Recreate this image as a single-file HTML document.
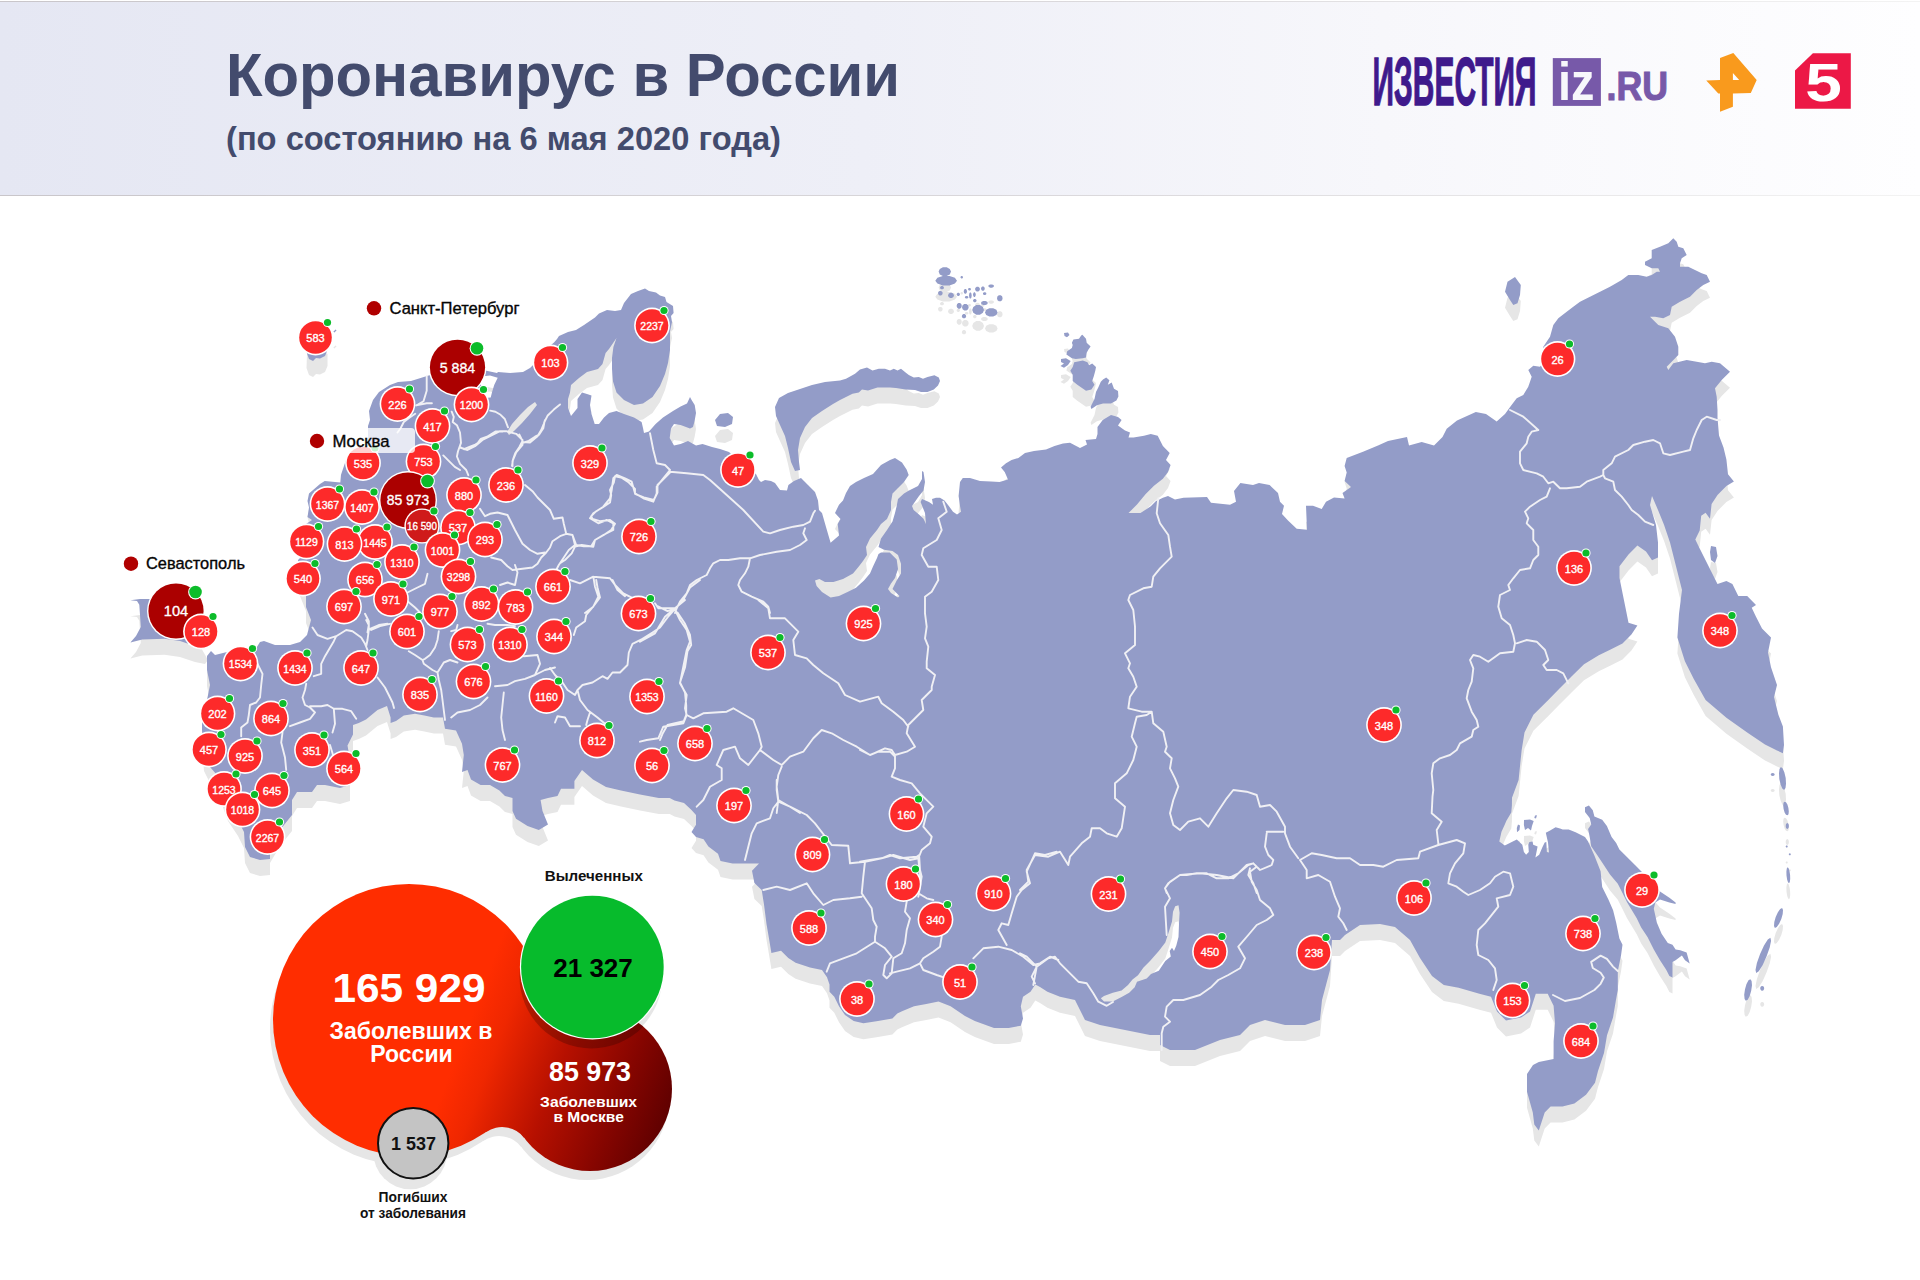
<!DOCTYPE html>
<html><head><meta charset="utf-8"><title>Коронавирус в России</title>
<style>
html,body{margin:0;padding:0;background:#fff;width:1920px;height:1280px;overflow:hidden}
svg{display:block}
text{font-family:'Liberation Sans', Arial, sans-serif}
.cn{fill:#fff;text-anchor:middle;font-weight:400;stroke:#fff;stroke-width:0.35px}
</style></head><body>
<svg width="1920" height="1280" viewBox="0 0 1920 1280">
<defs>
<linearGradient id="hdr" x1="0" y1="0" x2="1" y2="0">
<stop offset="0" stop-color="#e5e7f3"/><stop offset="0.45" stop-color="#eeeff7"/><stop offset="0.72" stop-color="#f7f7fb"/><stop offset="1" stop-color="#fefeff"/>
</linearGradient>
<linearGradient id="hline" x1="0" y1="0" x2="1" y2="0">
<stop offset="0" stop-color="#c9c6ca"/><stop offset="0.6" stop-color="#dcdadd"/><stop offset="1" stop-color="#f3f3f3"/>
</linearGradient>
<linearGradient id="blobg" gradientUnits="userSpaceOnUse" x1="470" y1="1020" x2="680" y2="1100">
<stop offset="0" stop-color="#ff2d00"/><stop offset="0.15" stop-color="#ef2700"/><stop offset="0.45" stop-color="#b61000"/><stop offset="0.75" stop-color="#850500"/><stop offset="1" stop-color="#5c0000"/>
</linearGradient>
<clipPath id="blobclip"><circle cx="409" cy="1020" r="136"/><circle cx="590" cy="1089" r="82"/><path d="M486.2 1132.0A28 28 0 0 1 524.4 1138.2L530 1040L470 1040Z"/></clipPath>
<filter id="gsh" x="-30%" y="-30%" width="160%" height="160%"><feGaussianBlur stdDeviation="4"/></filter>
<path id="land" d="M368.0 437.0L368.0 426.0L370.0 420.0L369.0 411.0L373.0 400.0L379.0 392.0L390.0 385.0L398.0 382.0L411.0 381.0L427.0 376.0L440.0 372.0L460.0 368.0L478.0 369.0L486.5 370.8L497.0 372.9L498.0 372.0L510.0 373.0L523.0 372.0L530.0 368.0L535.0 363.0L545.0 350.0L554.0 342.5L557.0 339.0L559.0 336.0L568.0 332.0L576.0 330.0L584.0 325.0L595.0 317.5L599.0 313.6L607.0 310.0L615.0 311.0L621.0 310.0L624.0 303.0L631.0 294.0L638.0 291.0L645.0 288.6L649.0 291.0L656.0 292.5L660.0 295.6L665.0 297.0L666.5 302.0L673.0 306.0L673.6 313.0L671.0 316.0L672.0 322.0L670.0 331.5L670.0 350.0L668.0 363.0L665.0 374.0L660.0 386.0L652.5 397.0L643.0 403.5L634.0 405.0L624.0 400.0L616.5 392.5L613.0 381.5L612.0 369.0L612.0 358.0L613.4 347.0L616.5 338.0L609.0 349.0L605.6 353.0L602.5 364.0L598.0 369.0L587.0 372.0L579.0 378.0L571.0 385.0L570.0 392.5L568.0 399.0L568.0 408.0L571.0 416.0L577.5 408.0L577.5 399.0L582.0 392.5L587.0 394.0L591.5 395.6L590.0 405.0L591.5 414.0L594.7 424.0L599.0 424.0L604.0 417.5L609.0 413.0L616.5 411.0L624.0 414.0L634.0 417.5L641.6 422.0L643.0 428.0L644.0 433.0L649.0 431.5L655.6 424.0L663.0 417.5L673.0 411.0L680.6 406.5L687.0 403.5L690.0 397.0L691.6 400.0L694.7 405.0L696.0 413.0L694.7 420.6L693.0 427.0L690.0 428.5L680.6 425.0L674.0 424.0L671.0 428.5L669.7 438.0L674.0 445.6L680.6 444.0L688.0 441.0L696.0 445.6L702.5 444.0L712.0 447.0L720.0 449.0L729.0 452.0L740.0 462.0L750.0 470.0L756.0 474.0L759.0 480.0L761.0 482.0L765.0 480.0L771.0 481.0L775.0 483.0L780.0 490.0L787.0 490.6L788.4 485.0L794.0 481.0L801.0 478.0L808.0 485.0L815.0 492.0L818.0 500.5L819.0 510.0L822.0 513.0L826.0 527.0L830.6 542.7L839.0 535.6L837.7 524.0L840.5 519.0L835.0 513.0L839.0 504.7L843.0 500.5L846.0 493.0L850.0 486.0L856.0 482.0L864.0 478.0L873.0 474.0L881.0 465.0L890.0 460.0L895.0 458.0L902.0 462.5L906.6 469.5L908.7 475.0L904.0 482.0L898.0 488.0L892.5 493.4L891.0 502.0L891.0 510.0L887.0 519.0L881.0 524.0L877.0 530.0L870.0 538.5L866.0 547.0L867.0 555.0L863.0 561.0L858.8 566.6L853.0 573.6L843.0 579.0L833.4 582.0L825.0 582.0L819.4 579.0L815.0 580.6L816.6 586.0L822.0 592.0L830.6 597.5L839.0 596.0L847.5 592.0L856.0 587.7L864.0 580.6L870.0 573.6L873.0 566.6L877.0 558.0L878.5 554.0L881.0 552.5L889.7 552.5L896.7 559.5L898.0 569.0L895.0 578.0L891.0 583.5L888.0 589.0L891.0 593.0L898.0 597.5L899.5 596.0L892.5 589.0L896.7 580.6L901.0 573.6L901.0 563.8L898.0 555.0L892.5 551.0L884.0 549.7L878.5 547.0L881.0 538.5L887.0 530.0L892.5 521.6L895.0 513.0L896.7 506.0L898.0 499.0L904.0 493.4L909.0 490.6L918.0 486.0L922.0 479.0L922.0 471.0L923.5 472.0L925.0 482.0L923.5 490.6L919.0 496.0L912.0 506.0L913.6 510.0L919.0 514.5L923.5 518.8L926.0 524.0L925.0 513.0L920.6 502.0L922.0 499.0L929.0 502.0L933.0 504.7L932.0 499.0L936.0 497.7L940.0 497.7L944.5 500.5L948.8 506.0L953.0 511.7L957.0 514.5L961.0 511.7L960.0 506.0L958.6 496.0L960.0 482.0L962.8 478.0L970.0 478.0L980.0 481.0L991.0 481.4L999.5 482.0L1008.0 479.6L1004.7 472.0L1001.0 467.6L1006.0 463.3L1011.6 460.0L1018.4 458.0L1025.0 453.0L1034.0 451.0L1046.0 449.6L1054.5 446.0L1063.0 443.5L1070.0 442.7L1080.0 448.0L1087.0 444.4L1085.5 440.0L1096.0 439.0L1097.5 434.0L1097.5 427.0L1102.7 420.0L1111.0 415.0L1118.0 417.0L1121.6 420.0L1118.0 425.5L1125.0 430.6L1130.0 432.4L1128.5 437.5L1133.6 437.5L1144.0 435.8L1150.8 434.0L1157.7 435.8L1162.9 446.0L1169.7 453.0L1166.0 460.0L1170.6 465.0L1168.0 472.0L1162.9 478.8L1154.0 485.7L1145.7 494.0L1137.0 504.6L1128.5 513.0L1140.5 513.0L1150.8 506.3L1156.0 501.0L1159.4 499.4L1162.9 497.7L1168.0 496.0L1175.0 499.4L1183.5 497.7L1207.0 497.0L1211.0 502.7L1230.0 504.8L1236.0 501.7L1234.0 491.0L1240.4 483.0L1253.0 485.0L1259.0 483.0L1269.6 485.0L1278.0 493.0L1280.0 501.7L1284.0 505.8L1282.0 514.0L1288.0 520.4L1296.7 528.8L1307.0 529.8L1306.0 505.8L1313.0 505.8L1321.7 509.0L1326.0 501.7L1334.0 497.5L1344.6 498.5L1342.5 493.0L1351.0 487.0L1344.6 481.0L1346.7 472.5L1344.6 466.0L1346.7 458.0L1363.0 451.7L1378.0 445.4L1388.0 441.0L1407.0 437.0L1409.0 445.4L1421.7 442.0L1434.0 445.4L1442.5 437.0L1446.7 428.8L1457.0 420.4L1475.8 412.0L1486.0 414.0L1496.7 421.5L1505.0 414.0L1511.0 405.8L1516.7 398.3L1523.3 395.0L1528.3 386.7L1531.7 376.7L1528.3 370.0L1533.3 365.8L1540.0 366.7L1545.0 360.0L1543.3 346.7L1550.0 336.7L1553.3 325.0L1558.3 318.3L1566.7 311.7L1573.3 306.7L1580.0 301.7L1590.0 296.7L1600.0 291.7L1610.0 286.7L1621.7 280.0L1628.3 275.0L1638.3 275.0L1646.7 276.7L1651.7 275.0L1656.7 271.7L1660.0 271.7L1658.3 268.3L1651.7 268.3L1645.0 265.0L1645.0 261.7L1651.7 258.3L1651.7 250.0L1660.0 246.7L1668.3 243.3L1673.3 238.3L1676.7 241.7L1678.3 246.7L1683.3 248.3L1686.7 255.0L1681.7 258.3L1680.0 263.3L1680.0 266.7L1688.3 266.7L1695.0 270.0L1701.7 273.3L1706.7 275.0L1710.0 281.7L1703.3 285.0L1696.7 290.0L1690.0 296.7L1680.0 301.7L1671.7 306.7L1670.0 315.0L1663.3 318.3L1655.0 316.7L1650.0 316.7L1658.3 325.0L1668.3 328.3L1675.0 336.7L1678.3 346.7L1678.3 355.0L1671.7 361.7L1666.7 366.7L1668.3 370.0L1673.3 363.3L1686.7 360.0L1696.7 361.7L1705.0 363.3L1711.7 361.7L1720.0 363.3L1730.0 371.7L1721.7 380.0L1715.0 388.3L1716.7 396.7L1717.5 410.0L1717.5 417.8L1719.0 435.6L1723.5 447.5L1726.4 459.4L1728.0 474.2L1733.9 481.6L1726.4 486.0L1717.5 495.0L1711.6 504.0L1710.0 518.8L1705.6 512.8L1701.2 515.8L1699.7 530.6L1695.3 539.5L1699.7 548.5L1705.6 560.3L1711.6 572.2L1717.5 584.0L1726.4 581.0L1732.4 584.0L1738.3 596.0L1747.2 596.0L1756.0 604.9L1751.7 607.8L1756.0 616.7L1762.0 628.6L1771.0 637.5L1768.0 652.4L1771.0 667.2L1777.0 685.0L1774.0 697.0L1778.4 714.7L1782.9 726.6L1784.0 745.0L1782.9 753.3L1777.0 750.4L1765.0 744.4L1747.2 732.5L1726.4 717.7L1705.6 699.9L1693.8 679.0L1684.9 661.3L1677.4 637.5L1679.0 613.8L1682.0 590.0L1676.0 566.3L1670.0 542.5L1664.0 524.7L1658.0 510.0L1652.0 496.0L1650.0 505.0L1656.0 525.0L1658.0 542.5L1658.0 557.4L1652.0 560.3L1646.0 551.4L1637.4 545.5L1628.5 554.4L1619.5 566.3L1619.5 578.0L1622.5 593.0L1625.5 607.8L1628.5 622.7L1637.4 625.6L1631.4 634.6L1622.5 643.5L1610.6 649.4L1598.8 655.3L1584.0 664.3L1572.0 676.0L1560.0 688.0L1548.3 700.0L1533.4 714.7L1524.5 732.5L1521.6 750.4L1518.6 780.0L1512.0 797.8L1511.9 805.5L1511.3 812.6L1506.4 820.8L1504.8 824.6L1501.5 831.7L1499.3 841.6L1504.8 845.4L1510.8 842.6L1516.8 839.4L1522.3 844.8L1523.9 851.9L1526.1 854.7L1528.8 851.9L1528.3 844.8L1529.4 842.1L1532.6 841.6L1533.2 844.8L1537.6 846.5L1535.4 857.4L1539.2 854.7L1542.5 847.0L1544.7 842.6L1546.3 842.1L1546.9 851.9L1549.0 852.5L1548.0 842.6L1545.8 832.8L1550.1 830.6L1555.6 827.3L1560.0 828.4L1562.7 829.5L1568.7 829.5L1575.6 832.2L1585.0 836.9L1588.1 841.6L1594.4 855.6L1600.6 871.2L1602.2 886.9L1608.4 899.4L1613.1 910.3L1616.2 922.8L1619.4 938.4L1622.5 944.7L1621.0 955.6L1617.8 971.2L1617.8 990.0L1616.0 999.7L1613.0 1017.5L1607.0 1035.3L1604.0 1053.0L1598.0 1071.0L1595.0 1082.8L1586.0 1094.7L1574.4 1103.6L1562.5 1106.6L1550.6 1106.6L1544.7 1112.5L1538.8 1130.4L1534.3 1124.4L1532.8 1112.5L1527.0 1091.8L1527.0 1074.0L1533.0 1065.0L1538.8 1062.0L1553.6 1059.0L1553.6 1041.3L1555.0 1023.5L1553.6 1005.7L1547.7 993.8L1535.8 993.8L1530.0 1011.6L1521.0 1017.5L1506.0 1020.5L1497.0 1011.6L1491.0 996.7L1479.4 993.8L1458.6 987.8L1443.8 984.9L1432.0 976.0L1420.0 958.0L1410.0 940.0L1395.0 927.0L1380.0 924.0L1360.0 925.0L1345.0 935.0L1340.0 940.0L1332.0 940.0L1330.0 970.0L1322.0 1000.0L1320.0 1020.0L1305.0 1025.0L1285.0 1025.0L1265.0 1020.0L1250.0 1025.0L1240.0 1035.0L1220.0 1040.0L1195.0 1050.0L1170.0 1050.0L1160.0 1045.0L1160.0 1035.0L1150.0 1035.0L1125.0 1030.0L1100.0 1025.0L1085.0 1020.0L1080.0 1010.0L1075.0 1000.0L1060.0 996.7L1047.4 991.8L1040.0 987.0L1035.3 984.6L1030.5 991.8L1023.0 996.7L1020.8 1006.3L1023.0 1018.5L1020.8 1025.7L1008.7 1028.0L994.0 1028.0L974.8 1020.9L965.0 1016.0L950.6 1006.3L938.5 1001.5L926.3 1004.0L914.0 1006.3L902.0 1011.2L897.3 1013.6L892.4 1018.5L878.0 1020.9L863.4 1023.3L853.7 1020.9L845.0 1015.0L839.0 1006.3L834.3 996.7L829.5 991.8L829.5 984.6L827.0 977.3L822.0 970.0L810.0 967.6L795.6 962.8L788.3 958.0L781.0 950.7L771.4 953.0L769.0 938.5L766.5 924.0L764.0 904.6L761.7 890.0L754.4 882.9L752.0 870.7L759.0 863.5L747.0 863.5L732.6 863.5L720.5 861.0L718.0 853.8L708.4 846.5L703.6 839.3L696.0 837.0L691.5 832.0L696.0 824.7L696.0 815.0L691.5 810.0L684.0 803.0L674.5 800.5L669.7 798.0L658.8 798.0L640.0 794.4L621.0 790.6L606.0 787.0L593.0 779.4L582.0 770.0L574.4 781.0L574.4 788.8L561.0 788.8L557.5 796.0L548.0 798.0L540.6 800.0L542.5 811.0L548.0 824.4L538.8 830.0L527.5 826.0L516.0 818.8L512.5 811.0L512.5 798.0L505.0 796.0L499.4 790.6L490.0 785.0L480.6 785.0L471.0 779.4L467.5 770.0L462.0 772.0L463.8 755.0L462.0 743.8L456.0 730.6L445.0 728.8L443.0 717.5L433.8 717.5L424.4 715.6L415.0 713.8L403.8 715.6L396.0 721.0L390.6 723.0L390.6 717.5L387.0 706.0L377.5 710.0L366.0 719.4L358.8 723.0L353.0 725.0L353.0 734.4L347.5 745.6L350.0 760.0L350.0 772.0L350.0 785.0L340.0 788.0L325.0 785.0L317.0 785.0L312.0 792.0L297.0 792.0L292.0 800.0L292.0 815.0L280.0 830.0L270.0 847.0L270.0 859.0L260.0 860.0L250.0 857.0L245.0 847.0L244.0 832.0L238.0 820.0L228.0 805.0L217.0 775.0L210.0 767.0L204.0 755.0L202.0 730.0L202.0 715.0L207.0 700.0L210.0 685.0L207.0 670.0L207.0 656.0L211.0 651.0L215.0 655.0L235.0 650.0L255.0 650.0L260.0 642.0L264.0 641.0L275.0 645.0L290.0 645.0L300.0 642.0L307.0 635.0L311.0 620.0L306.0 607.0L306.0 595.0L300.0 580.0L298.0 560.0L301.0 557.0L300.0 540.0L306.0 524.0L312.0 520.0L307.5 517.0L309.0 507.5L307.5 501.0L309.0 493.4L320.0 484.0L324.7 481.0L340.3 482.5L341.0 474.7L346.0 460.0L355.0 450.0L368.0 445.0ZM775.0 407.0L779.0 398.0L788.0 393.0L800.0 389.0L812.0 385.0L825.0 382.0L835.0 381.0L840.0 380.6L846.0 378.8L851.0 376.0L855.0 373.8L860.0 369.4L867.0 367.5L872.5 370.6L878.8 368.8L885.0 368.8L890.0 370.6L893.8 368.8L897.5 370.6L901.0 368.8L905.6 372.5L908.8 375.0L913.8 377.5L918.8 377.0L923.0 378.8L927.5 377.0L934.4 375.3L938.8 377.5L940.0 381.0L938.0 385.6L933.8 389.4L927.5 391.9L921.0 391.9L915.0 390.0L905.6 389.4L896.0 388.0L890.0 387.5L883.8 387.5L877.5 387.5L868.0 390.6L862.0 389.4L858.8 392.5L852.5 393.8L846.0 397.0L840.0 400.0L833.0 404.0L822.0 411.0L812.0 418.0L805.0 427.0L800.0 438.0L798.0 450.0L799.0 462.0L800.0 470.0L795.0 471.0L791.0 462.0L788.0 448.0L785.0 436.0L780.0 425.0L776.0 416.0ZM130.4 600.2L137.0 601.0L139.3 604.7L140.0 615.0L140.8 627.0L136.0 636.0L130.4 642.6L142.3 639.6L164.5 638.8L180.0 641.0L195.0 646.0L205.0 648.0L208.0 644.0L200.0 630.0L190.0 620.0L185.0 600.0L165.0 594.0L150.0 599.0L140.0 599.0ZM307.0 338.0L322.0 334.0L327.5 338.0L327.5 350.0L325.0 356.0L320.0 358.5L316.0 358.0L313.0 361.0L309.0 359.0L306.5 352.0ZM333.3 331.8L335.5 329.6L336.6 330.2L334.5 332.6ZM715.0 420.0L720.0 414.0L728.0 413.0L733.0 417.0L732.0 424.0L725.0 427.0L717.0 426.0ZM1082.4 334.8L1086.0 338.8L1086.7 342.7L1090.6 346.6L1088.3 349.7L1086.7 352.8L1086.0 357.5L1082.8 358.3L1075.8 359.0L1071.9 358.3L1066.4 354.4L1067.2 351.2L1071.9 348.0L1072.7 345.0L1071.9 342.7L1073.4 339.5L1079.0 338.8L1081.2 335.6ZM1064.0 333.0L1068.0 332.5L1069.5 335.0L1067.0 337.2L1064.5 336.0ZM1061.0 359.0L1066.0 358.3L1070.7 361.0L1068.0 365.0L1064.0 367.7L1060.5 366.0L1064.0 363.5L1061.0 362.0ZM1074.2 362.2L1082.8 360.6L1087.5 362.2L1089.0 365.3L1092.2 363.4L1096.0 366.9L1095.3 370.8L1093.8 376.2L1092.2 381.0L1094.5 384.8L1091.4 389.5L1086.0 390.7L1082.0 388.0L1077.3 384.8L1072.7 381.0L1072.7 374.7L1070.3 370.8L1072.7 366.9ZM1106.2 377.4L1109.4 380.2L1107.8 384.8L1111.7 382.5L1114.0 388.8L1118.0 391.0L1118.4 396.6L1116.4 400.5L1111.0 403.6L1103.0 403.6L1096.9 405.2L1091.4 409.0L1090.6 406.7L1094.5 398.9L1096.0 391.9L1098.4 387.2L1100.8 381.7L1103.0 379.4ZM1515.0 277.0L1520.8 285.0L1520.0 295.0L1517.5 303.3L1513.3 305.0L1510.0 300.0L1505.0 291.7L1507.5 281.7ZM1588.9 805.6L1592.8 810.3L1594.4 816.6L1602.2 819.7L1606.9 825.9L1611.6 836.9L1616.2 843.1L1619.4 849.4L1627.2 857.2L1635.0 865.0L1641.2 871.2L1650.0 880.0L1660.0 891.6L1669.4 897.8L1675.6 902.5L1675.6 904.0L1669.4 902.5L1660.0 899.4L1655.3 902.5L1653.8 908.8L1656.9 922.8L1661.6 933.8L1667.8 943.1L1672.5 944.7L1675.6 949.4L1680.3 950.2L1686.6 952.5L1689.7 963.4L1685.0 960.3L1681.9 955.6L1675.6 960.3L1672.5 961.9L1672.5 977.5L1669.4 975.9L1666.2 969.7L1660.0 960.3L1653.8 949.4L1647.5 936.9L1641.2 927.5L1636.6 918.1L1627.2 902.5L1622.5 893.1L1617.8 883.8L1610.0 874.4L1603.8 865.0L1597.5 855.6L1591.2 846.2L1589.7 836.9L1588.1 829.1L1591.2 824.4L1589.7 818.1L1585.0 811.9L1585.0 807.2ZM1711.0 546.0L1716.0 547.0L1717.5 556.0L1715.0 563.0L1711.0 560.0L1710.0 552.0ZM1785.7 778.1L1786.0 783.8L1785.5 788.1L1784.1 789.9L1782.3 788.6L1780.6 784.6L1779.3 778.9L1779.0 773.2L1779.5 768.9L1780.9 767.1L1782.7 768.4L1784.4 772.4ZM1774.7 774.5L1774.4 775.2L1773.7 775.8L1772.7 776.0L1771.7 775.8L1771.0 775.2L1770.7 774.5L1771.0 773.8L1771.7 773.2L1772.7 773.0L1773.7 773.2L1774.4 773.8ZM1788.4 808.0L1788.8 811.5L1788.5 814.2L1787.5 815.3L1786.0 814.7L1784.6 812.4L1783.6 809.0L1783.2 805.5L1783.5 802.8L1784.5 801.7L1786.0 802.3L1787.4 804.6ZM1788.9 826.0L1788.7 827.5L1788.1 828.6L1787.3 829.0L1786.5 828.6L1785.9 827.5L1785.7 826.0L1785.9 824.5L1786.5 823.4L1787.3 823.0L1788.1 823.4L1788.7 824.5ZM1787.7 846.5L1787.6 847.0L1787.2 847.4L1786.7 847.5L1786.2 847.4L1785.8 847.0L1785.7 846.5L1785.8 846.0L1786.2 845.6L1786.7 845.5L1787.2 845.6L1787.6 846.0ZM1790.8 854.3L1790.7 854.8L1790.3 855.2L1789.8 855.3L1789.3 855.2L1788.9 854.8L1788.8 854.3L1788.9 853.8L1789.3 853.4L1789.8 853.3L1790.3 853.4L1790.7 853.8ZM1790.1 875.1L1790.2 879.1L1789.8 882.1L1789.0 883.3L1788.0 882.3L1787.1 879.4L1786.5 875.5L1786.4 871.5L1786.8 868.5L1787.6 867.3L1788.6 868.3L1789.5 871.2ZM1781.3 919.0L1779.1 923.8L1776.8 927.1L1774.9 927.9L1774.0 926.0L1774.3 922.0L1775.7 917.0L1777.9 912.2L1780.2 908.9L1782.1 908.1L1783.0 910.0L1782.7 914.0ZM1766.5 956.6L1762.6 965.2L1758.8 971.2L1756.2 972.9L1755.5 969.9L1756.9 963.0L1760.1 954.0L1764.0 945.4L1767.8 939.4L1770.4 937.7L1771.1 940.7L1769.7 947.6ZM1751.2 990.7L1749.7 996.0L1747.7 999.7L1745.8 1000.8L1744.6 999.0L1744.2 994.8L1745.0 989.3L1746.5 984.0L1748.5 980.3L1750.4 979.2L1751.6 981.0L1752.0 985.2ZM1764.2 988.3L1763.9 989.5L1763.2 990.4L1762.2 990.7L1761.2 990.4L1760.5 989.5L1760.2 988.3L1760.5 987.1L1761.2 986.2L1762.2 985.9L1763.2 986.2L1763.9 987.1ZM1524.0 820.0L1530.0 819.5L1533.7 821.0L1532.0 826.0L1531.0 830.6L1528.0 828.0L1525.0 830.0L1523.9 825.0ZM1518.0 824.6L1520.0 825.5L1519.5 830.0L1517.0 832.3L1516.8 828.0ZM1535.0 815.5L1537.0 815.3L1536.0 818.6L1534.3 818.0ZM951.0 271.6L949.8 274.4L946.7 276.1L942.9 276.1L939.8 274.4L938.6 271.6L939.8 268.9L942.9 267.2L946.7 267.2L949.8 268.9ZM957.0 280.7L954.9 283.6L949.5 285.4L942.8 285.4L937.4 283.6L935.3 280.7L937.4 277.8L942.8 276.0L949.5 276.0L954.9 277.8ZM963.0 277.2L962.8 278.0L962.1 278.4L961.4 278.4L960.7 278.0L960.5 277.2L960.7 276.5L961.4 276.1L962.1 276.1L962.8 276.5ZM944.0 287.7L943.6 288.7L942.6 289.3L941.4 289.3L940.4 288.7L940.0 287.7L940.4 286.7L941.4 286.1L942.6 286.1L943.6 286.7ZM942.7 293.1L942.3 294.5L941.1 295.4L939.6 295.4L938.4 294.5L938.0 293.1L938.4 291.8L939.6 290.9L941.1 290.9L942.3 291.8ZM954.0 295.4L953.4 297.1L951.9 298.1L950.1 298.1L948.6 297.1L948.0 295.4L948.6 293.8L950.1 292.8L951.9 292.8L953.4 293.8ZM960.0 294.4L959.7 295.3L958.8 295.9L957.8 295.9L956.9 295.3L956.6 294.4L956.9 293.4L957.8 292.8L958.8 292.8L959.7 293.4ZM967.0 291.4L966.7 292.8L965.9 293.7L964.8 293.7L964.0 292.8L963.7 291.4L964.0 290.0L964.8 289.1L965.9 289.1L966.7 290.0ZM971.0 289.1L970.7 289.9L970.0 290.4L969.0 290.4L968.3 289.9L968.0 289.1L968.3 288.4L969.0 287.9L970.0 287.9L970.7 288.4ZM980.0 289.1L979.5 290.6L978.3 291.5L976.7 291.5L975.5 290.6L975.0 289.1L975.5 287.7L976.7 286.8L978.3 286.8L979.5 287.7ZM984.8 288.6L984.4 289.9L983.5 290.7L982.3 290.7L981.4 289.9L981.0 288.6L981.4 287.3L982.3 286.5L983.5 286.5L984.4 287.3ZM994.0 286.1L993.5 287.1L992.0 287.7L990.3 287.7L988.8 287.1L988.3 286.1L988.8 285.0L990.3 284.4L992.0 284.4L993.5 285.0ZM971.7 295.4L971.4 297.4L970.8 298.5L969.9 298.5L969.3 297.4L969.0 295.4L969.3 293.5L969.9 292.4L970.8 292.4L971.4 293.5ZM975.8 294.6L975.5 296.0L974.8 296.9L974.0 296.9L973.3 296.0L973.0 294.6L973.3 293.2L974.0 292.3L974.8 292.3L975.5 293.2ZM986.4 293.6L986.1 294.4L985.2 294.9L984.1 294.9L983.2 294.4L982.9 293.6L983.2 292.8L984.1 292.3L985.2 292.3L986.1 292.8ZM1002.6 298.2L1002.1 300.2L1000.7 301.3L998.9 301.3L997.5 300.2L997.0 298.2L997.5 296.3L998.9 295.2L1000.7 295.2L1002.1 296.3ZM976.6 300.6L976.3 301.6L975.4 302.2L974.2 302.2L973.3 301.6L973.0 300.6L973.3 299.7L974.2 299.1L975.4 299.1L976.3 299.7ZM987.8 303.0L987.2 304.2L985.5 304.9L983.3 304.9L981.6 304.2L981.0 303.0L981.6 301.8L983.3 301.1L985.5 301.1L987.2 301.8ZM961.8 305.9L961.3 307.6L960.0 308.8L958.4 308.8L957.1 307.6L956.6 305.9L957.1 304.1L958.4 302.9L960.0 302.9L961.3 304.1ZM968.7 307.2L968.1 309.3L966.4 310.6L964.3 310.6L962.6 309.3L962.0 307.2L962.6 305.2L964.3 303.9L966.4 303.9L968.1 305.2ZM984.0 309.9L982.9 312.8L979.9 314.7L976.3 314.7L973.3 312.8L972.2 309.9L973.3 306.9L976.3 305.0L979.9 305.0L982.9 306.9ZM997.6 312.4L996.4 315.0L993.2 316.6L989.4 316.6L986.2 315.0L985.0 312.4L986.2 309.8L989.4 308.2L993.2 308.2L996.4 309.8ZM966.2 316.2L965.8 317.5L964.7 318.3L963.3 318.3L962.2 317.5L961.8 316.2L962.2 314.9L963.3 314.1L964.7 314.1L965.8 314.9ZM968.4 297.4L968.1 298.1L967.2 298.6L966.0 298.6L965.1 298.1L964.8 297.4L965.1 296.6L966.0 296.1L967.2 296.1L968.1 296.6ZM1178.5 905.2L1179.6 912.8L1179.0 923.8L1178.5 936.9L1176.3 945.6L1174.0 951.0L1172.0 947.8L1169.7 951.0L1170.8 956.6L1165.3 961.0L1158.8 970.8L1151.0 974.0L1146.7 978.5L1137.0 981.8L1134.7 987.2L1129.2 992.7L1121.6 997.0L1112.8 1001.4L1104.0 1001.4L1100.8 998.2L1104.0 996.0L1112.8 992.7L1121.6 990.5L1128.0 985.0L1132.5 979.6L1138.0 975.2L1143.5 967.5L1150.0 961.0L1158.8 951.0L1165.3 942.4L1168.6 932.5L1172.0 921.6L1173.0 911.7L1175.2 906.3ZM535.0 402.0L537.0 405.0L530.0 414.0L522.0 423.0L514.0 431.0L509.0 435.0L507.0 432.0L512.0 424.0L520.0 415.0L528.0 407.0ZM481.0 376.5L490.0 375.5L497.7 377.8L494.2 384.9L492.1 391.9L490.7 397.5L485.0 398.0L481.0 386.0Z"/>
</defs>
<rect x="0" y="1" width="1920" height="195" fill="url(#hdr)"/>
<rect x="0" y="1" width="1920" height="1" fill="url(#hline)"/>
<rect x="0" y="195" width="1920" height="1" fill="url(#hline)"/>
<text x="226" y="96" font-size="61" font-weight="700" fill="#434b6d" textLength="674" lengthAdjust="spacingAndGlyphs">Коронавирус в России</text>
<text x="226" y="149.5" font-size="32.5" font-weight="700" fill="#434b6d" textLength="555" lengthAdjust="spacingAndGlyphs">(по состоянию на 6 мая 2020 года)</text>
<!-- logos -->
<text x="1372.6" y="105.4" font-size="69" font-weight="700" fill="#3f1a8c" stroke="#3f1a8c" stroke-width="1.3" textLength="164" lengthAdjust="spacingAndGlyphs">ИЗВЕСТИЯ</text>
<rect x="1552.8" y="58.1" width="48.1" height="47.8" fill="#7759a9"/>
<text x="1558" y="99.8" font-size="53" font-weight="700" fill="#f7f7fb" textLength="36.5" lengthAdjust="spacingAndGlyphs">iz</text>
<text x="1606.5" y="99.8" font-size="40.5" font-weight="700" fill="#7759a9" stroke="#7759a9" stroke-width="1.1" textLength="61.5" lengthAdjust="spacingAndGlyphs">.RU</text>
<path d="M1720 58L1733.3 53L1756.7 80.1L1750.8 93L1732.9 93.4L1732.9 106.75L1720 111.75L1720 93.4L1718.3 93.4L1706.25 80.5L1720 80.1ZM1732.9 73L1739.2 80.1L1732.9 80.1Z" fill="#f99a1d" fill-rule="evenodd"/>
<path d="M1812.9 53.2L1850.8 53.2L1850.8 108.8L1795 108.8L1795 70.5Z" fill="#ec1846"/>
<text transform="translate(1823.6,101.3) scale(1.22,1)" font-size="54" font-weight="700" fill="#fff" text-anchor="middle">5</text>
<!-- map -->
<use href="#land" transform="translate(0,16)" fill="#e6e6e6" fill-rule="evenodd"/>
<use href="#land" fill="#939cc8" fill-rule="evenodd"/>
<path d="M650.0 433.3L653.3 450.0L656.7 463.3L665.0 465.0L670.0 470.0M670.0 470.0L663.3 478.3L656.7 486.7L656.7 493.3L653.3 501.7L643.3 498.3L635.0 493.3L631.7 481.7L625.0 478.3L616.7 475.0L613.3 478.3L611.7 490.0L610.0 498.3L603.3 506.7L593.3 513.3L590.0 518.3L598.3 523.3L606.7 520.0L613.3 523.3L613.3 530.0L603.3 535.0L595.0 540.0L593.3 546.7L581.7 545.0L575.0 546.7L571.7 553.3L565.0 560.0L560.0 563.3M670.0 471.7L686.7 473.3L703.3 475.0L710.0 480.0L726.7 495.0L743.3 510.0L763.3 531.7L770.0 533.3L780.0 530.0L793.3 526.7L803.3 525.0L810.0 521.7L813.3 513.3L815.0 510.8M805.0 528.3L803.3 533.3L806.7 540.0L800.0 545.0L790.0 550.0L776.7 551.7L760.0 555.0L750.0 558.3L740.0 558.3L728.3 560.0L720.0 560.0L713.3 563.3L710.0 568.3L706.7 575.0L696.7 580.0L690.0 585.0L686.7 593.3L680.0 601.7L676.7 608.3L675.0 613.0M750.0 558.3L748.3 566.7L745.0 573.3L740.0 580.0L738.3 585.0L741.7 591.7L751.7 596.7L763.3 601.7L768.3 606.7L770.0 613.0M593.3 576.7L610.0 578.3L615.0 585.0L623.3 593.3L633.3 598.3M593.3 576.7L595.0 586.7L598.3 596.7L593.3 606.7L585.0 613.0M570.0 580.0L580.0 583.3L593.3 576.7M943.3 501.7L946.7 511.7L938.3 518.3L941.7 530.0L936.7 540.0L923.3 548.3L921.7 555.0L928.3 566.7L936.7 566.7L938.3 580.0L931.7 591.7L925.0 596.7L925.0 613.3L926.7 626.7L925.0 638.3L928.3 646.7L926.7 661.7L926.7 668.3L935.0 675.0L931.7 686.7L931.7 690.0L921.7 700.0L923.3 710.0L908.3 725.0L906.7 733.3L915.0 746.7L906.7 751.7L895.0 755.0M895.0 755.0L891.7 750.0L885.0 748.3L870.0 755.0L860.0 750.0M895.0 755.0L895.0 768.3L891.7 776.7L900.0 780.0L911.7 783.3L920.0 793.3L933.3 806.7L926.7 813.3L923.3 826.7L931.7 836.7L930.0 843.3L921.7 850.0L918.3 858.3M918.3 858.3L910.0 860.0L893.3 855.0L881.7 858.3L870.0 860.0L860.0 861.7M918.3 858.3L919.2 866.7L921.7 876.7L918.3 896.7M1158.3 498.3L1156.7 513.3L1160.0 523.3L1168.3 535.0L1170.0 546.7L1171.7 556.7L1160.0 568.3L1153.3 576.7L1151.7 586.7L1143.3 588.3L1130.0 595.0L1128.3 600.0L1133.3 610.0L1135.0 626.7L1135.0 645.0L1125.0 653.3L1130.0 663.3L1128.3 668.3L1133.3 676.7L1136.7 686.7L1130.0 696.7L1128.3 708.3L1141.7 711.7L1151.7 711.7M1151.7 711.7L1146.7 715.0L1136.7 716.7L1135.0 723.3L1131.7 736.7L1136.7 746.7L1133.3 760.0L1126.7 773.3L1115.0 783.3L1115.0 798.3L1125.0 806.7L1121.7 828.3L1116.7 836.7L1106.7 833.3L1100.0 828.3L1091.7 828.3L1090.0 836.7L1081.7 843.3L1070.0 856.7L1068.3 865.0L1060.0 851.7L1048.3 856.7L1035.0 855.0L1026.7 870.0L1028.3 881.7L1020.0 890.0M1151.7 711.7L1153.3 723.3L1163.3 731.7L1166.7 746.7L1165.0 751.7L1171.7 758.3L1170.0 768.3L1175.0 778.3L1178.3 786.7L1173.3 800.0L1170.0 813.3L1173.3 825.0L1180.0 830.0L1188.3 821.7L1200.0 818.3L1208.3 826.7L1216.7 813.3L1226.7 798.3L1233.3 790.0L1246.7 791.7L1256.7 795.0L1260.0 806.7L1270.0 805.0L1276.7 811.7L1285.0 826.7L1285.0 833.3L1290.0 846.7L1298.3 858.3M1300.0 860.0L1306.7 870.0L1306.7 878.3L1318.3 875.0L1330.0 881.7L1335.0 896.7L1340.0 908.3L1338.3 916.7L1343.3 923.3L1346.7 930.0M1300.0 860.0L1311.7 853.3L1321.7 855.0L1336.7 858.3L1350.0 858.3L1360.0 865.0L1373.3 865.0L1383.3 866.7L1396.7 860.0L1418.3 858.3L1420.0 851.7L1438.3 845.0M1266.7 831.7L1283.3 831.7M1266.7 833.3L1265.0 846.7L1268.3 855.0L1273.3 860.0L1271.7 865.0L1260.0 870.0L1253.3 863.3L1246.7 865.0L1240.0 871.7L1233.3 878.3L1216.7 875.0L1200.0 873.3L1180.0 875.0L1170.0 881.7L1165.0 888.3L1166.7 893.0M1250.0 868.3L1248.3 875.0L1253.3 883.3L1256.7 893.0M1510.0 410.0L1523.3 416.7L1538.3 430.0L1531.7 431.7L1528.3 436.7L1526.7 443.3L1520.0 451.7L1520.0 463.3L1523.3 470.0L1536.7 473.3L1543.3 476.7L1548.3 483.3L1553.3 481.7L1560.0 488.3L1566.7 488.3L1580.0 486.7L1586.7 481.7L1600.0 476.7L1603.3 475.0M1603.3 475.0L1603.3 470.0L1611.7 463.3L1615.0 456.7L1628.3 450.0L1633.3 445.0L1645.0 441.7L1653.3 440.0L1660.0 443.3L1663.3 453.3L1670.0 455.0L1683.3 451.7L1690.0 450.0L1693.3 438.3L1696.7 430.0L1701.7 420.0L1706.7 416.7L1716.7 420.0L1720.0 420.0M1603.3 475.0L1605.0 478.3L1613.3 481.7L1615.0 490.0L1621.7 496.7L1628.3 505.0L1631.7 510.0L1638.3 515.0L1645.0 521.7L1653.3 525.0M1550.0 488.3L1546.7 496.7L1540.0 500.0L1530.0 506.7L1525.0 511.7L1528.3 518.3L1526.7 523.3L1533.3 530.0L1533.3 540.0L1538.3 546.7L1538.3 555.0L1533.3 560.0L1530.0 568.3L1520.0 570.0L1513.3 578.3L1508.3 585.0L1510.0 590.0L1500.0 595.0L1498.3 606.7L1501.7 618.3L1510.0 625.0L1513.3 635.0L1515.0 643.3L1513.3 651.7M1516.7 643.3L1526.7 640.0L1536.7 641.7L1545.0 650.0L1548.3 660.0L1543.3 665.0L1546.7 670.0L1556.7 670.0L1563.3 673.3L1568.3 683.3M1513.3 651.7L1500.0 653.3L1488.3 661.7L1480.0 656.7L1473.3 655.0L1470.0 660.0L1473.3 668.3L1471.7 681.7L1468.3 690.0L1466.7 698.3L1471.7 711.7L1476.7 720.0L1478.3 726.7L1473.3 730.0L1471.7 736.7L1460.0 743.3L1456.7 750.0L1450.0 755.0L1440.0 758.3L1433.3 763.3L1431.7 773.3L1433.3 790.0L1432.5 796.7L1431.7 813.3L1441.7 821.7L1436.7 830.0L1438.3 843.3L1438.3 845.0M1438.3 845.0L1456.7 840.0L1465.0 843.3L1463.3 853.3L1455.0 863.3L1450.0 873.3L1448.3 883.3L1456.7 886.7L1463.3 891.7L1468.3 895.0L1480.0 890.0L1490.0 883.3L1495.0 876.7L1503.3 871.7L1510.0 873.3L1513.3 886.7L1510.0 895.0L1496.7 898.3L1498.3 906.7L1485.0 923.3L1478.3 930.0L1476.7 945.0L1478.3 955.0L1488.3 960.0L1495.0 968.3L1496.7 980.0L1493.3 990.0M685.0 600.0L675.0 608.3L665.0 616.7L655.0 633.3L640.0 641.7M675.0 608.3L658.3 608.3L655.0 603.3M675.0 608.3L676.7 613.3L680.0 620.0L686.7 630.0L690.0 641.7L686.7 650.0L683.3 666.7L680.0 683.3L686.7 695.0L685.0 708.3L686.7 715.0M686.7 715.0L683.3 723.3L663.3 726.7L658.3 738.3L646.7 740.0L640.0 741.7M686.7 715.0L693.3 718.3L703.3 713.3L726.7 711.7L733.3 708.3L753.3 720.0L758.3 733.3L761.7 746.7L760.0 750.0M760.0 750.0L773.3 760.0L781.7 765.0L790.0 756.7L803.3 751.7L813.3 738.3L821.7 730.0L831.7 733.3L843.3 740.0L856.7 746.7L870.0 755.0L878.3 751.7L890.0 751.7L895.0 756.7M781.7 766.7L778.3 775.0L776.7 786.7L778.3 800.0L776.7 813.0M760.0 750.0L748.3 765.0L740.0 758.3L735.0 746.7L723.3 750.0L716.7 765.0L721.7 768.3L721.7 780.0L710.0 786.7L703.3 800.0L696.7 806.7M758.3 600.0L768.3 608.3L770.0 618.3L785.0 618.3L798.3 631.7L793.3 640.0L795.0 655.0L806.7 658.3L813.3 665.0L823.3 673.3L838.3 683.3L845.0 695.0L860.0 701.7L878.3 696.7L881.7 703.3L893.3 711.7L903.3 720.0L908.3 726.7M778.3 800.0L790.0 806.7L800.0 813.0M776.7 780.0L776.7 790.0L778.3 801.7L790.0 806.7L806.7 815.0L815.0 823.3L831.7 845.0L848.3 845.8L850.0 863.3L865.0 861.7L881.7 858.3L890.0 855.0L900.0 858.3L916.7 856.7L919.2 855.0M778.3 801.7L773.3 808.3L770.0 818.3L756.7 823.3L751.7 833.3L748.3 846.7L745.0 860.0M865.0 861.7L863.3 876.7L861.7 893.3L871.7 908.3L873.3 920.0L876.7 926.7L875.0 936.7L875.0 941.7M875.0 941.7L856.7 953.3L843.3 958.3L830.0 963.3L826.7 971.7M875.0 941.7L885.0 948.3L891.7 956.7L885.0 965.0L883.3 975.0L886.7 978.3L891.7 973.3M763.3 890.0L776.7 886.7L790.0 890.0L806.7 883.3L813.3 893.3L823.3 905.0L833.3 900.0L850.0 898.3L861.7 896.7M919.2 856.7L920.0 870.0L920.0 880.0L918.3 893.3L926.7 898.3L933.3 900.0M906.7 901.7L905.0 911.7L910.0 918.3L906.7 930.0L905.0 943.3L901.7 953.3L893.3 958.3L891.7 973.3M941.7 936.7L940.0 946.7L933.3 951.7L923.3 958.3L920.0 963.3L910.0 968.3L896.7 971.7L890.0 973.3M920.0 963.3L923.3 970.0L936.7 975.0L946.7 978.3M973.3 958.3L983.3 948.3L998.3 946.7L1011.7 950.0L1023.3 956.7L1033.3 965.0L1040.0 963.3L1050.0 956.7L1058.3 960.0M1006.7 945.0L998.3 930.0L1001.7 923.3L1008.3 925.0L1011.7 913.3L1016.7 896.7L1021.7 890.0L1030.0 883.3L1026.7 871.7L1035.0 853.3L1045.0 855.0L1056.7 851.7M1036.7 966.7L1033.3 985.0M1020.0 953.3L1026.7 956.7L1036.7 966.7L1048.3 958.3L1055.0 956.7L1060.0 963.3L1070.0 973.3L1078.3 981.7L1086.7 983.3L1093.3 993.3L1098.3 1001.7L1106.7 1005.8L1113.0 1002.0M1166.7 935.0L1165.0 906.7L1170.0 898.3L1165.0 888.3L1168.3 883.3L1180.0 875.0L1186.7 875.0L1196.7 873.3L1206.7 873.3L1216.7 878.3L1228.3 878.3L1238.3 873.3L1248.3 865.0L1253.3 863.3L1256.7 866.7L1250.0 871.7L1251.7 881.7L1256.7 890.0L1260.0 900.0L1270.0 908.3L1273.3 915.0L1266.7 920.0L1256.7 925.0L1248.3 935.0L1238.3 946.7L1245.0 958.3L1240.0 968.3L1228.3 975.0L1218.3 980.0L1211.7 986.7L1200.0 995.0L1183.3 1000.0L1173.3 1000.0L1166.7 1006.7L1165.0 1016.7L1170.0 1021.7L1163.3 1026.7L1161.7 1033.3L1161.7 1050.0M1036.7 966.7L1031.7 976.7L1035.0 983.3M460.0 447.5L467.5 450.0L475.0 446.2L482.5 440.0L490.0 436.2L500.0 431.2L506.2 431.2L516.2 433.8L522.5 440.0L522.5 445.0L516.2 452.5L512.5 461.2L512.5 466.2M522.5 442.0L530.0 442.5L537.5 436.2L541.2 430.0L543.8 423.8L545.0 420.0M525.0 485.0L532.5 491.2L537.5 497.5L545.0 505.0L550.0 510.0L553.8 518.8L562.5 517.5L563.8 523.8L566.2 533.8M566.2 533.8L572.5 535.0L576.2 545.0L583.8 546.2L591.2 546.2L595.0 540.0L603.8 535.0L611.2 530.0L615.0 523.8L610.0 520.0L600.0 521.2L592.5 518.8L591.2 516.2L596.2 511.2L602.5 507.5L610.0 502.5L611.2 495.0L610.0 490.0L613.8 482.5L615.0 476.2L621.2 477.5L628.8 482.5L635.0 488.8L635.0 493.8L643.8 497.5L653.8 500.0L657.5 492.5L657.5 485.0L662.5 480.0L670.0 472.5M566.2 533.8L560.0 536.2L552.5 541.2L550.0 547.5L546.2 552.5L541.2 557.5L537.5 563.8L532.5 567.5L522.5 568.8L512.5 570.0L507.5 566.2L501.2 560.0L491.2 557.5M572.5 535.0L575.0 545.0L568.8 550.0L563.8 557.5L558.8 565.0L556.2 570.0M507.5 515.0L510.0 520.0L515.0 530.0L522.5 543.8L530.0 550.0L537.5 553.8L545.0 552.5M507.5 515.0L497.5 512.5L490.0 513.8L485.0 516.2L480.0 508.8M700.0 580.0L690.0 587.5L682.5 601.2L675.0 608.8M675.0 608.8L667.5 611.2L657.5 606.2M625.0 596.2L617.5 590.0L612.5 580.0M675.0 608.8L667.5 617.5L660.0 627.5L652.5 632.5L642.5 638.8L632.5 643.8L628.8 652.5L627.5 665.0L620.0 672.5L612.5 672.5L607.5 678.8L602.5 676.2L592.5 682.5L582.5 685.0L577.5 690.0L580.0 700.0L587.5 710.0L597.5 717.5L605.0 723.8M677.5 612.5L685.0 623.8L690.0 635.0L691.2 645.0L687.5 651.2L685.0 667.5L680.0 682.5L685.0 692.5L686.2 705.0L686.2 715.0M686.2 715.0L683.8 721.2L667.5 725.0L662.5 733.8L660.0 740.0M596.2 580.0L597.5 587.5L600.0 597.5L592.5 607.5L586.2 615.0L585.0 621.2L576.2 627.5L573.8 635.0M550.0 668.0L555.0 675.0L562.5 682.5L567.5 690.0L575.0 695.0L577.5 690.0M590.0 712.5L587.5 720.0L586.2 725.0M503.8 692.5L502.5 705.0L501.2 717.5L502.5 730.0L505.0 740.0M555.0 722.5L557.5 716.2L565.0 717.5L570.0 726.2L580.0 726.2M257.5 663.8L262.5 673.8L261.2 685.0L260.0 697.5L256.2 702.5L250.0 705.0L248.8 715.0L247.5 722.5L241.2 727.5L241.2 736.2M306.2 683.8L305.0 690.0L302.5 697.5L305.0 705.0L310.0 707.5L315.0 712.5L310.0 718.8L300.0 722.5L290.0 726.2M310.0 706.2L321.2 706.2L327.5 705.0L333.8 708.8L342.5 708.8L351.2 711.2L356.2 718.8M333.8 708.8L335.0 723.8L332.5 732.5M325.0 656.2L321.2 663.8L321.2 673.8L313.8 676.2M325.0 656.2L333.8 641.2L336.2 636.2L346.2 630.0L352.5 631.2L361.2 637.5L365.0 643.8L367.5 650.0M336.2 636.2L327.5 638.8L317.5 635.0L312.5 627.5M367.5 632.5L368.8 625.0L366.2 620.0M371.2 630.0L380.0 626.2L390.0 623.8M377.5 677.5L385.0 687.5L388.8 695.0L392.5 702.5L394.0 708.0M282.5 732.5L281.2 742.5L285.0 757.5L286.2 770.0M330.0 745.0L333.8 757.5M366.2 646.2L367.5 640.0L368.8 630.0L370.0 628.8L378.8 625.0L387.5 623.8M365.0 613.8L368.8 621.2L368.8 630.0M408.8 651.2L415.0 655.0L422.5 660.0L425.0 658.8L430.0 655.0L435.0 647.5L437.5 640.0L438.8 631.2M422.5 660.0L423.8 663.8L432.5 670.0L437.5 672.5L438.8 680.0L441.2 690.0L442.5 700.0L445.0 720.0M437.5 672.5L443.8 662.5L450.0 660.0L457.5 662.5M523.8 656.2L537.5 655.0L540.0 663.8L535.0 675.0L525.0 678.8L515.0 681.2L507.5 685.0L495.0 686.2M535.0 675.0L545.0 670.0L555.0 667.5M487.5 697.5L480.0 705.0L470.0 710.0L457.5 712.5L451.2 717.5M407.5 592.5L417.5 587.5L425.0 583.8L427.5 573.8M407.5 601.2L415.0 607.5L420.0 612.5M500.0 585.0L507.5 582.5L515.0 585.0L517.5 572.5L515.0 565.0M487.5 623.8L495.0 625.0L507.5 625.0L515.0 626.2M457.5 625.0L456.2 630.0L451.2 631.2M426.7 376.2L426.7 390.8L423.5 401.2L418.3 404.4L416.2 405.4M416.2 405.4L426.7 403.3L431.9 403.3M415.2 413.8L409.0 418.0L403.8 422.0L400.6 428.3L397.5 432.5M451.7 411.7L453.8 416.9L452.7 422.0L456.9 425.2L460.0 432.5L461.0 442.9L458.0 451.2L456.9 456.5L460.0 463.8L466.2 470.0L468.3 475.2M460.0 447.0L464.0 449.2L469.4 447.0L474.6 445.0L477.7 443.0L480.8 438.8L487.0 436.7L495.4 431.5L502.7 431.5M490.2 410.6L495.4 411.7L500.6 414.8L504.8 419.0L508.0 427.3M519.4 434.6L522.5 440.8L519.4 447.0L515.2 453.3L513.0 459.6L512.0 465.8M522.5 443.0L528.8 440.8L535.0 436.7L539.2 434.6L543.3 428.3L544.4 422.0L547.5 415.8L553.8 409.6L560.0 404.4M443.3 455.4L448.5 460.6L454.8 466.9L460.0 470.0M1617.8 971.0L1613.0 966.6L1606.9 958.8L1600.6 955.6L1591.2 961.9L1592.8 968.0L1600.6 972.8L1603.8 977.5L1600.6 983.8L1594.4 990.0L1580.0 998.0L1565.0 1001.0L1553.0 995.0" fill="none" stroke="#f0f0f4" stroke-width="1.9" stroke-linejoin="round" stroke-linecap="round"/>
<!-- circles -->
<g><circle cx="652" cy="325.5" r="17.9" fill="#fff"/><circle cx="652" cy="325.5" r="16.3" fill="#fd2a2a"/><text x="652" y="330.2" class="cn" font-size="10.5">2237</text><circle cx="664" cy="310.5" r="4.6" fill="#fff"/><circle cx="664" cy="310.5" r="3.6" fill="#0cbc2a"/></g>
<g><circle cx="315.5" cy="337.5" r="17.9" fill="#fff"/><circle cx="315.5" cy="337.5" r="16.3" fill="#fd2a2a"/><text x="315.5" y="342.2" class="cn" font-size="11">583</text><circle cx="327.5" cy="322.5" r="4.6" fill="#fff"/><circle cx="327.5" cy="322.5" r="3.6" fill="#0cbc2a"/></g>
<g><circle cx="1557.5" cy="359" r="17.9" fill="#fff"/><circle cx="1557.5" cy="359" r="16.3" fill="#fd2a2a"/><text x="1557.5" y="363.7" class="cn" font-size="11">26</text><circle cx="1569.5" cy="344" r="4.6" fill="#fff"/><circle cx="1569.5" cy="344" r="3.6" fill="#0cbc2a"/></g>
<g><circle cx="550.5" cy="362.5" r="17.9" fill="#fff"/><circle cx="550.5" cy="362.5" r="16.3" fill="#fd2a2a"/><text x="550.5" y="367.2" class="cn" font-size="11">103</text><circle cx="562.5" cy="347.5" r="4.6" fill="#fff"/><circle cx="562.5" cy="347.5" r="3.6" fill="#0cbc2a"/></g>
<g><circle cx="457.5" cy="367.3" r="29" fill="#fff"/><circle cx="457.5" cy="367.3" r="27.6" fill="#ab0000"/><text x="457.5" y="372.6" class="cn" font-size="15" textLength="35.5" lengthAdjust="spacingAndGlyphs">5 884</text><circle cx="477.0" cy="348.3" r="7.4" fill="#fff"/><circle cx="477.0" cy="348.3" r="6.3" fill="#0cbc2a"/></g>
<g><circle cx="397.5" cy="404" r="17.9" fill="#fff"/><circle cx="397.5" cy="404" r="16.3" fill="#fd2a2a"/><text x="397.5" y="408.7" class="cn" font-size="11">226</text><circle cx="409.5" cy="389" r="4.6" fill="#fff"/><circle cx="409.5" cy="389" r="3.6" fill="#0cbc2a"/></g>
<g><circle cx="471.5" cy="404.5" r="17.9" fill="#fff"/><circle cx="471.5" cy="404.5" r="16.3" fill="#fd2a2a"/><text x="471.5" y="409.2" class="cn" font-size="10.5">1200</text><circle cx="483.5" cy="389.5" r="4.6" fill="#fff"/><circle cx="483.5" cy="389.5" r="3.6" fill="#0cbc2a"/></g>
<g><circle cx="432.5" cy="426" r="17.9" fill="#fff"/><circle cx="432.5" cy="426" r="16.3" fill="#fd2a2a"/><text x="432.5" y="430.7" class="cn" font-size="11">417</text><circle cx="444.5" cy="411" r="4.6" fill="#fff"/><circle cx="444.5" cy="411" r="3.6" fill="#0cbc2a"/></g>
<g><circle cx="423.5" cy="461.5" r="17.9" fill="#fff"/><circle cx="423.5" cy="461.5" r="16.3" fill="#fd2a2a"/><text x="423.5" y="466.2" class="cn" font-size="11">753</text><circle cx="435.5" cy="446.5" r="4.6" fill="#fff"/><circle cx="435.5" cy="446.5" r="3.6" fill="#0cbc2a"/></g>
<g><circle cx="363" cy="463" r="17.9" fill="#fff"/><circle cx="363" cy="463" r="16.3" fill="#fd2a2a"/><text x="363" y="467.7" class="cn" font-size="11">535</text><circle cx="375" cy="448" r="4.6" fill="#fff"/><circle cx="375" cy="448" r="3.6" fill="#0cbc2a"/></g>
<g><circle cx="590" cy="463" r="17.9" fill="#fff"/><circle cx="590" cy="463" r="16.3" fill="#fd2a2a"/><text x="590" y="467.7" class="cn" font-size="11">329</text><circle cx="602" cy="448" r="4.6" fill="#fff"/><circle cx="602" cy="448" r="3.6" fill="#0cbc2a"/></g>
<g><circle cx="738" cy="470" r="17.9" fill="#fff"/><circle cx="738" cy="470" r="16.3" fill="#fd2a2a"/><text x="738" y="474.7" class="cn" font-size="11">47</text><circle cx="750" cy="455" r="4.6" fill="#fff"/><circle cx="750" cy="455" r="3.6" fill="#0cbc2a"/></g>
<g><circle cx="506" cy="485" r="17.9" fill="#fff"/><circle cx="506" cy="485" r="16.3" fill="#fd2a2a"/><text x="506" y="489.7" class="cn" font-size="11">236</text><circle cx="518" cy="470" r="4.6" fill="#fff"/><circle cx="518" cy="470" r="3.6" fill="#0cbc2a"/></g>
<g><circle cx="464" cy="495" r="17.9" fill="#fff"/><circle cx="464" cy="495" r="16.3" fill="#fd2a2a"/><text x="464" y="499.7" class="cn" font-size="11">880</text><circle cx="476" cy="480" r="4.6" fill="#fff"/><circle cx="476" cy="480" r="3.6" fill="#0cbc2a"/></g>
<g><circle cx="408" cy="500" r="29" fill="#fff"/><circle cx="408" cy="500" r="27.6" fill="#ab0000"/><text x="408" y="505.3" class="cn" font-size="15" textLength="42.6" lengthAdjust="spacingAndGlyphs">85 973</text><circle cx="427.5" cy="481" r="7.4" fill="#fff"/><circle cx="427.5" cy="481" r="6.3" fill="#0cbc2a"/></g>
<g><circle cx="327.5" cy="504" r="17.9" fill="#fff"/><circle cx="327.5" cy="504" r="16.3" fill="#fd2a2a"/><text x="327.5" y="508.7" class="cn" font-size="10.5">1367</text><circle cx="339.5" cy="489" r="4.6" fill="#fff"/><circle cx="339.5" cy="489" r="3.6" fill="#0cbc2a"/></g>
<g><circle cx="362" cy="507" r="17.9" fill="#fff"/><circle cx="362" cy="507" r="16.3" fill="#fd2a2a"/><text x="362" y="511.7" class="cn" font-size="10.5">1407</text><circle cx="374" cy="492" r="4.6" fill="#fff"/><circle cx="374" cy="492" r="3.6" fill="#0cbc2a"/></g>
<g><circle cx="422" cy="526" r="17.6" fill="#fff"/><circle cx="422" cy="526" r="16.2" fill="#cf1a1a"/><text x="422" y="530.4" class="cn" font-size="10.8" textLength="30" lengthAdjust="spacingAndGlyphs">16 590</text><circle cx="434" cy="511" r="4.6" fill="#fff"/><circle cx="434" cy="511" r="3.6" fill="#0cbc2a"/></g>
<g><circle cx="458" cy="527.5" r="17.9" fill="#fff"/><circle cx="458" cy="527.5" r="16.3" fill="#fd2a2a"/><text x="458" y="532.2" class="cn" font-size="11">537</text><circle cx="470" cy="512.5" r="4.6" fill="#fff"/><circle cx="470" cy="512.5" r="3.6" fill="#0cbc2a"/></g>
<g><circle cx="639" cy="536.5" r="17.9" fill="#fff"/><circle cx="639" cy="536.5" r="16.3" fill="#fd2a2a"/><text x="639" y="541.2" class="cn" font-size="11">726</text><circle cx="651" cy="521.5" r="4.6" fill="#fff"/><circle cx="651" cy="521.5" r="3.6" fill="#0cbc2a"/></g>
<g><circle cx="485" cy="539.5" r="17.9" fill="#fff"/><circle cx="485" cy="539.5" r="16.3" fill="#fd2a2a"/><text x="485" y="544.2" class="cn" font-size="11">293</text><circle cx="497" cy="524.5" r="4.6" fill="#fff"/><circle cx="497" cy="524.5" r="3.6" fill="#0cbc2a"/></g>
<g><circle cx="306.5" cy="541.5" r="17.9" fill="#fff"/><circle cx="306.5" cy="541.5" r="16.3" fill="#fd2a2a"/><text x="306.5" y="546.2" class="cn" font-size="10.5">1129</text><circle cx="318.5" cy="526.5" r="4.6" fill="#fff"/><circle cx="318.5" cy="526.5" r="3.6" fill="#0cbc2a"/></g>
<g><circle cx="375" cy="542" r="17.9" fill="#fff"/><circle cx="375" cy="542" r="16.3" fill="#fd2a2a"/><text x="375" y="546.7" class="cn" font-size="10.5">1445</text><circle cx="387" cy="527" r="4.6" fill="#fff"/><circle cx="387" cy="527" r="3.6" fill="#0cbc2a"/></g>
<g><circle cx="344.5" cy="544" r="17.9" fill="#fff"/><circle cx="344.5" cy="544" r="16.3" fill="#fd2a2a"/><text x="344.5" y="548.7" class="cn" font-size="11">813</text><circle cx="356.5" cy="529" r="4.6" fill="#fff"/><circle cx="356.5" cy="529" r="3.6" fill="#0cbc2a"/></g>
<g><circle cx="442.5" cy="550" r="17.9" fill="#fff"/><circle cx="442.5" cy="550" r="16.3" fill="#fd2a2a"/><text x="442.5" y="554.7" class="cn" font-size="10.5">1001</text><circle cx="454.5" cy="535" r="4.6" fill="#fff"/><circle cx="454.5" cy="535" r="3.6" fill="#0cbc2a"/></g>
<g><circle cx="402" cy="562" r="17.9" fill="#fff"/><circle cx="402" cy="562" r="16.3" fill="#fd2a2a"/><text x="402" y="566.7" class="cn" font-size="10.5">1310</text><circle cx="414" cy="547" r="4.6" fill="#fff"/><circle cx="414" cy="547" r="3.6" fill="#0cbc2a"/></g>
<g><circle cx="1574" cy="568" r="17.9" fill="#fff"/><circle cx="1574" cy="568" r="16.3" fill="#fd2a2a"/><text x="1574" y="572.7" class="cn" font-size="11">136</text><circle cx="1586" cy="553" r="4.6" fill="#fff"/><circle cx="1586" cy="553" r="3.6" fill="#0cbc2a"/></g>
<g><circle cx="458.5" cy="576.5" r="17.9" fill="#fff"/><circle cx="458.5" cy="576.5" r="16.3" fill="#fd2a2a"/><text x="458.5" y="581.2" class="cn" font-size="10.5">3298</text><circle cx="470.5" cy="561.5" r="4.6" fill="#fff"/><circle cx="470.5" cy="561.5" r="3.6" fill="#0cbc2a"/></g>
<g><circle cx="303" cy="578.5" r="17.9" fill="#fff"/><circle cx="303" cy="578.5" r="16.3" fill="#fd2a2a"/><text x="303" y="583.2" class="cn" font-size="11">540</text><circle cx="315" cy="563.5" r="4.6" fill="#fff"/><circle cx="315" cy="563.5" r="3.6" fill="#0cbc2a"/></g>
<g><circle cx="365" cy="579.5" r="17.9" fill="#fff"/><circle cx="365" cy="579.5" r="16.3" fill="#fd2a2a"/><text x="365" y="584.2" class="cn" font-size="11">656</text><circle cx="377" cy="564.5" r="4.6" fill="#fff"/><circle cx="377" cy="564.5" r="3.6" fill="#0cbc2a"/></g>
<g><circle cx="553" cy="586.5" r="17.9" fill="#fff"/><circle cx="553" cy="586.5" r="16.3" fill="#fd2a2a"/><text x="553" y="591.2" class="cn" font-size="11">661</text><circle cx="565" cy="571.5" r="4.6" fill="#fff"/><circle cx="565" cy="571.5" r="3.6" fill="#0cbc2a"/></g>
<g><circle cx="391" cy="599" r="17.9" fill="#fff"/><circle cx="391" cy="599" r="16.3" fill="#fd2a2a"/><text x="391" y="603.7" class="cn" font-size="11">971</text><circle cx="403" cy="584" r="4.6" fill="#fff"/><circle cx="403" cy="584" r="3.6" fill="#0cbc2a"/></g>
<g><circle cx="481.5" cy="604" r="17.9" fill="#fff"/><circle cx="481.5" cy="604" r="16.3" fill="#fd2a2a"/><text x="481.5" y="608.7" class="cn" font-size="11">892</text><circle cx="493.5" cy="589" r="4.6" fill="#fff"/><circle cx="493.5" cy="589" r="3.6" fill="#0cbc2a"/></g>
<g><circle cx="344" cy="606.5" r="17.9" fill="#fff"/><circle cx="344" cy="606.5" r="16.3" fill="#fd2a2a"/><text x="344" y="611.2" class="cn" font-size="11">697</text><circle cx="356" cy="591.5" r="4.6" fill="#fff"/><circle cx="356" cy="591.5" r="3.6" fill="#0cbc2a"/></g>
<g><circle cx="515.5" cy="607" r="17.9" fill="#fff"/><circle cx="515.5" cy="607" r="16.3" fill="#fd2a2a"/><text x="515.5" y="611.7" class="cn" font-size="11">783</text><circle cx="527.5" cy="592" r="4.6" fill="#fff"/><circle cx="527.5" cy="592" r="3.6" fill="#0cbc2a"/></g>
<g><circle cx="176" cy="611" r="29" fill="#fff"/><circle cx="176" cy="611" r="27.6" fill="#ab0000"/><text x="176" y="616.3" class="cn" font-size="15" textLength="24.5" lengthAdjust="spacingAndGlyphs">104</text><circle cx="195.5" cy="592" r="7.4" fill="#fff"/><circle cx="195.5" cy="592" r="6.3" fill="#0cbc2a"/></g>
<g><circle cx="440" cy="611.5" r="17.9" fill="#fff"/><circle cx="440" cy="611.5" r="16.3" fill="#fd2a2a"/><text x="440" y="616.2" class="cn" font-size="11">977</text><circle cx="452" cy="596.5" r="4.6" fill="#fff"/><circle cx="452" cy="596.5" r="3.6" fill="#0cbc2a"/></g>
<g><circle cx="638.5" cy="613.5" r="17.9" fill="#fff"/><circle cx="638.5" cy="613.5" r="16.3" fill="#fd2a2a"/><text x="638.5" y="618.2" class="cn" font-size="11">673</text><circle cx="650.5" cy="598.5" r="4.6" fill="#fff"/><circle cx="650.5" cy="598.5" r="3.6" fill="#0cbc2a"/></g>
<g><circle cx="863.5" cy="623.5" r="17.9" fill="#fff"/><circle cx="863.5" cy="623.5" r="16.3" fill="#fd2a2a"/><text x="863.5" y="628.2" class="cn" font-size="11">925</text><circle cx="875.5" cy="608.5" r="4.6" fill="#fff"/><circle cx="875.5" cy="608.5" r="3.6" fill="#0cbc2a"/></g>
<g><circle cx="1720" cy="630.5" r="17.9" fill="#fff"/><circle cx="1720" cy="630.5" r="16.3" fill="#fd2a2a"/><text x="1720" y="635.2" class="cn" font-size="11">348</text><circle cx="1732" cy="615.5" r="4.6" fill="#fff"/><circle cx="1732" cy="615.5" r="3.6" fill="#0cbc2a"/></g>
<g><circle cx="201" cy="631.5" r="17.9" fill="#fff"/><circle cx="201" cy="631.5" r="16.3" fill="#fd2a2a"/><text x="201" y="636.2" class="cn" font-size="11">128</text><circle cx="213" cy="616.5" r="4.6" fill="#fff"/><circle cx="213" cy="616.5" r="3.6" fill="#0cbc2a"/></g>
<g><circle cx="407" cy="631.5" r="17.9" fill="#fff"/><circle cx="407" cy="631.5" r="16.3" fill="#fd2a2a"/><text x="407" y="636.2" class="cn" font-size="11">601</text><circle cx="419" cy="616.5" r="4.6" fill="#fff"/><circle cx="419" cy="616.5" r="3.6" fill="#0cbc2a"/></g>
<g><circle cx="554" cy="636.5" r="17.9" fill="#fff"/><circle cx="554" cy="636.5" r="16.3" fill="#fd2a2a"/><text x="554" y="641.2" class="cn" font-size="11">344</text><circle cx="566" cy="621.5" r="4.6" fill="#fff"/><circle cx="566" cy="621.5" r="3.6" fill="#0cbc2a"/></g>
<g><circle cx="467.5" cy="644.5" r="17.9" fill="#fff"/><circle cx="467.5" cy="644.5" r="16.3" fill="#fd2a2a"/><text x="467.5" y="649.2" class="cn" font-size="11">573</text><circle cx="479.5" cy="629.5" r="4.6" fill="#fff"/><circle cx="479.5" cy="629.5" r="3.6" fill="#0cbc2a"/></g>
<g><circle cx="510" cy="644.5" r="17.9" fill="#fff"/><circle cx="510" cy="644.5" r="16.3" fill="#fd2a2a"/><text x="510" y="649.2" class="cn" font-size="10.5">1310</text><circle cx="522" cy="629.5" r="4.6" fill="#fff"/><circle cx="522" cy="629.5" r="3.6" fill="#0cbc2a"/></g>
<g><circle cx="768" cy="652.5" r="17.9" fill="#fff"/><circle cx="768" cy="652.5" r="16.3" fill="#fd2a2a"/><text x="768" y="657.2" class="cn" font-size="11">537</text><circle cx="780" cy="637.5" r="4.6" fill="#fff"/><circle cx="780" cy="637.5" r="3.6" fill="#0cbc2a"/></g>
<g><circle cx="240.5" cy="663.5" r="17.9" fill="#fff"/><circle cx="240.5" cy="663.5" r="16.3" fill="#fd2a2a"/><text x="240.5" y="668.2" class="cn" font-size="10.5">1534</text><circle cx="252.5" cy="648.5" r="4.6" fill="#fff"/><circle cx="252.5" cy="648.5" r="3.6" fill="#0cbc2a"/></g>
<g><circle cx="295" cy="668" r="17.9" fill="#fff"/><circle cx="295" cy="668" r="16.3" fill="#fd2a2a"/><text x="295" y="672.7" class="cn" font-size="10.5">1434</text><circle cx="307" cy="653" r="4.6" fill="#fff"/><circle cx="307" cy="653" r="3.6" fill="#0cbc2a"/></g>
<g><circle cx="361" cy="668" r="17.9" fill="#fff"/><circle cx="361" cy="668" r="16.3" fill="#fd2a2a"/><text x="361" y="672.7" class="cn" font-size="11">647</text><circle cx="373" cy="653" r="4.6" fill="#fff"/><circle cx="373" cy="653" r="3.6" fill="#0cbc2a"/></g>
<g><circle cx="473.5" cy="681.5" r="17.9" fill="#fff"/><circle cx="473.5" cy="681.5" r="16.3" fill="#fd2a2a"/><text x="473.5" y="686.2" class="cn" font-size="11">676</text><circle cx="485.5" cy="666.5" r="4.6" fill="#fff"/><circle cx="485.5" cy="666.5" r="3.6" fill="#0cbc2a"/></g>
<g><circle cx="420" cy="694.5" r="17.9" fill="#fff"/><circle cx="420" cy="694.5" r="16.3" fill="#fd2a2a"/><text x="420" y="699.2" class="cn" font-size="11">835</text><circle cx="432" cy="679.5" r="4.6" fill="#fff"/><circle cx="432" cy="679.5" r="3.6" fill="#0cbc2a"/></g>
<g><circle cx="546.5" cy="696" r="17.9" fill="#fff"/><circle cx="546.5" cy="696" r="16.3" fill="#fd2a2a"/><text x="546.5" y="700.7" class="cn" font-size="10.5">1160</text><circle cx="558.5" cy="681" r="4.6" fill="#fff"/><circle cx="558.5" cy="681" r="3.6" fill="#0cbc2a"/></g>
<g><circle cx="647" cy="696.5" r="17.9" fill="#fff"/><circle cx="647" cy="696.5" r="16.3" fill="#fd2a2a"/><text x="647" y="701.2" class="cn" font-size="10.5">1353</text><circle cx="659" cy="681.5" r="4.6" fill="#fff"/><circle cx="659" cy="681.5" r="3.6" fill="#0cbc2a"/></g>
<g><circle cx="217.5" cy="713.5" r="17.9" fill="#fff"/><circle cx="217.5" cy="713.5" r="16.3" fill="#fd2a2a"/><text x="217.5" y="718.2" class="cn" font-size="11">202</text><circle cx="229.5" cy="698.5" r="4.6" fill="#fff"/><circle cx="229.5" cy="698.5" r="3.6" fill="#0cbc2a"/></g>
<g><circle cx="271" cy="718.5" r="17.9" fill="#fff"/><circle cx="271" cy="718.5" r="16.3" fill="#fd2a2a"/><text x="271" y="723.2" class="cn" font-size="11">864</text><circle cx="283" cy="703.5" r="4.6" fill="#fff"/><circle cx="283" cy="703.5" r="3.6" fill="#0cbc2a"/></g>
<g><circle cx="1384" cy="725" r="17.9" fill="#fff"/><circle cx="1384" cy="725" r="16.3" fill="#fd2a2a"/><text x="1384" y="729.7" class="cn" font-size="11">348</text><circle cx="1396" cy="710" r="4.6" fill="#fff"/><circle cx="1396" cy="710" r="3.6" fill="#0cbc2a"/></g>
<g><circle cx="597" cy="740.5" r="17.9" fill="#fff"/><circle cx="597" cy="740.5" r="16.3" fill="#fd2a2a"/><text x="597" y="745.2" class="cn" font-size="11">812</text><circle cx="609" cy="725.5" r="4.6" fill="#fff"/><circle cx="609" cy="725.5" r="3.6" fill="#0cbc2a"/></g>
<g><circle cx="695" cy="743.5" r="17.9" fill="#fff"/><circle cx="695" cy="743.5" r="16.3" fill="#fd2a2a"/><text x="695" y="748.2" class="cn" font-size="11">658</text><circle cx="707" cy="728.5" r="4.6" fill="#fff"/><circle cx="707" cy="728.5" r="3.6" fill="#0cbc2a"/></g>
<g><circle cx="209" cy="749.5" r="17.9" fill="#fff"/><circle cx="209" cy="749.5" r="16.3" fill="#fd2a2a"/><text x="209" y="754.2" class="cn" font-size="11">457</text><circle cx="221" cy="734.5" r="4.6" fill="#fff"/><circle cx="221" cy="734.5" r="3.6" fill="#0cbc2a"/></g>
<g><circle cx="312" cy="750" r="17.9" fill="#fff"/><circle cx="312" cy="750" r="16.3" fill="#fd2a2a"/><text x="312" y="754.7" class="cn" font-size="11">351</text><circle cx="324" cy="735" r="4.6" fill="#fff"/><circle cx="324" cy="735" r="3.6" fill="#0cbc2a"/></g>
<g><circle cx="245" cy="756" r="17.9" fill="#fff"/><circle cx="245" cy="756" r="16.3" fill="#fd2a2a"/><text x="245" y="760.7" class="cn" font-size="11">925</text><circle cx="257" cy="741" r="4.6" fill="#fff"/><circle cx="257" cy="741" r="3.6" fill="#0cbc2a"/></g>
<g><circle cx="502.5" cy="765" r="17.9" fill="#fff"/><circle cx="502.5" cy="765" r="16.3" fill="#fd2a2a"/><text x="502.5" y="769.7" class="cn" font-size="11">767</text><circle cx="514.5" cy="750" r="4.6" fill="#fff"/><circle cx="514.5" cy="750" r="3.6" fill="#0cbc2a"/></g>
<g><circle cx="652" cy="765.5" r="17.9" fill="#fff"/><circle cx="652" cy="765.5" r="16.3" fill="#fd2a2a"/><text x="652" y="770.2" class="cn" font-size="11">56</text><circle cx="664" cy="750.5" r="4.6" fill="#fff"/><circle cx="664" cy="750.5" r="3.6" fill="#0cbc2a"/></g>
<g><circle cx="344" cy="768.5" r="17.9" fill="#fff"/><circle cx="344" cy="768.5" r="16.3" fill="#fd2a2a"/><text x="344" y="773.2" class="cn" font-size="11">564</text><circle cx="356" cy="753.5" r="4.6" fill="#fff"/><circle cx="356" cy="753.5" r="3.6" fill="#0cbc2a"/></g>
<g><circle cx="224" cy="789" r="17.9" fill="#fff"/><circle cx="224" cy="789" r="16.3" fill="#fd2a2a"/><text x="224" y="793.7" class="cn" font-size="10.5">1253</text><circle cx="236" cy="774" r="4.6" fill="#fff"/><circle cx="236" cy="774" r="3.6" fill="#0cbc2a"/></g>
<g><circle cx="272" cy="790.5" r="17.9" fill="#fff"/><circle cx="272" cy="790.5" r="16.3" fill="#fd2a2a"/><text x="272" y="795.2" class="cn" font-size="11">645</text><circle cx="284" cy="775.5" r="4.6" fill="#fff"/><circle cx="284" cy="775.5" r="3.6" fill="#0cbc2a"/></g>
<g><circle cx="734" cy="805.5" r="17.9" fill="#fff"/><circle cx="734" cy="805.5" r="16.3" fill="#fd2a2a"/><text x="734" y="810.2" class="cn" font-size="11">197</text><circle cx="746" cy="790.5" r="4.6" fill="#fff"/><circle cx="746" cy="790.5" r="3.6" fill="#0cbc2a"/></g>
<g><circle cx="242.5" cy="809.5" r="17.9" fill="#fff"/><circle cx="242.5" cy="809.5" r="16.3" fill="#fd2a2a"/><text x="242.5" y="814.2" class="cn" font-size="10.5">1018</text><circle cx="254.5" cy="794.5" r="4.6" fill="#fff"/><circle cx="254.5" cy="794.5" r="3.6" fill="#0cbc2a"/></g>
<g><circle cx="906.5" cy="814" r="17.9" fill="#fff"/><circle cx="906.5" cy="814" r="16.3" fill="#fd2a2a"/><text x="906.5" y="818.7" class="cn" font-size="11">160</text><circle cx="918.5" cy="799" r="4.6" fill="#fff"/><circle cx="918.5" cy="799" r="3.6" fill="#0cbc2a"/></g>
<g><circle cx="267.5" cy="837" r="17.9" fill="#fff"/><circle cx="267.5" cy="837" r="16.3" fill="#fd2a2a"/><text x="267.5" y="841.7" class="cn" font-size="10.5">2267</text><circle cx="279.5" cy="822" r="4.6" fill="#fff"/><circle cx="279.5" cy="822" r="3.6" fill="#0cbc2a"/></g>
<g><circle cx="812.5" cy="854.5" r="17.9" fill="#fff"/><circle cx="812.5" cy="854.5" r="16.3" fill="#fd2a2a"/><text x="812.5" y="859.2" class="cn" font-size="11">809</text><circle cx="824.5" cy="839.5" r="4.6" fill="#fff"/><circle cx="824.5" cy="839.5" r="3.6" fill="#0cbc2a"/></g>
<g><circle cx="903.5" cy="884" r="17.9" fill="#fff"/><circle cx="903.5" cy="884" r="16.3" fill="#fd2a2a"/><text x="903.5" y="888.7" class="cn" font-size="11">180</text><circle cx="915.5" cy="869" r="4.6" fill="#fff"/><circle cx="915.5" cy="869" r="3.6" fill="#0cbc2a"/></g>
<g><circle cx="1642" cy="890" r="17.9" fill="#fff"/><circle cx="1642" cy="890" r="16.3" fill="#fd2a2a"/><text x="1642" y="894.7" class="cn" font-size="11">29</text><circle cx="1654" cy="875" r="4.6" fill="#fff"/><circle cx="1654" cy="875" r="3.6" fill="#0cbc2a"/></g>
<g><circle cx="993.5" cy="893.5" r="17.9" fill="#fff"/><circle cx="993.5" cy="893.5" r="16.3" fill="#fd2a2a"/><text x="993.5" y="898.2" class="cn" font-size="11">910</text><circle cx="1005.5" cy="878.5" r="4.6" fill="#fff"/><circle cx="1005.5" cy="878.5" r="3.6" fill="#0cbc2a"/></g>
<g><circle cx="1108.5" cy="894" r="17.9" fill="#fff"/><circle cx="1108.5" cy="894" r="16.3" fill="#fd2a2a"/><text x="1108.5" y="898.7" class="cn" font-size="11">231</text><circle cx="1120.5" cy="879" r="4.6" fill="#fff"/><circle cx="1120.5" cy="879" r="3.6" fill="#0cbc2a"/></g>
<g><circle cx="1414" cy="898" r="17.9" fill="#fff"/><circle cx="1414" cy="898" r="16.3" fill="#fd2a2a"/><text x="1414" y="902.7" class="cn" font-size="11">106</text><circle cx="1426" cy="883" r="4.6" fill="#fff"/><circle cx="1426" cy="883" r="3.6" fill="#0cbc2a"/></g>
<g><circle cx="935.5" cy="919.5" r="17.9" fill="#fff"/><circle cx="935.5" cy="919.5" r="16.3" fill="#fd2a2a"/><text x="935.5" y="924.2" class="cn" font-size="11">340</text><circle cx="947.5" cy="904.5" r="4.6" fill="#fff"/><circle cx="947.5" cy="904.5" r="3.6" fill="#0cbc2a"/></g>
<g><circle cx="809" cy="928" r="17.9" fill="#fff"/><circle cx="809" cy="928" r="16.3" fill="#fd2a2a"/><text x="809" y="932.7" class="cn" font-size="11">588</text><circle cx="821" cy="913" r="4.6" fill="#fff"/><circle cx="821" cy="913" r="3.6" fill="#0cbc2a"/></g>
<g><circle cx="1583" cy="933.5" r="17.9" fill="#fff"/><circle cx="1583" cy="933.5" r="16.3" fill="#fd2a2a"/><text x="1583" y="938.2" class="cn" font-size="11">738</text><circle cx="1595" cy="918.5" r="4.6" fill="#fff"/><circle cx="1595" cy="918.5" r="3.6" fill="#0cbc2a"/></g>
<g><circle cx="1210" cy="951.5" r="17.9" fill="#fff"/><circle cx="1210" cy="951.5" r="16.3" fill="#fd2a2a"/><text x="1210" y="956.2" class="cn" font-size="11">450</text><circle cx="1222" cy="936.5" r="4.6" fill="#fff"/><circle cx="1222" cy="936.5" r="3.6" fill="#0cbc2a"/></g>
<g><circle cx="1314" cy="952.5" r="17.9" fill="#fff"/><circle cx="1314" cy="952.5" r="16.3" fill="#fd2a2a"/><text x="1314" y="957.2" class="cn" font-size="11">238</text><circle cx="1326" cy="937.5" r="4.6" fill="#fff"/><circle cx="1326" cy="937.5" r="3.6" fill="#0cbc2a"/></g>
<g><circle cx="960" cy="982" r="17.9" fill="#fff"/><circle cx="960" cy="982" r="16.3" fill="#fd2a2a"/><text x="960" y="986.7" class="cn" font-size="11">51</text><circle cx="972" cy="967" r="4.6" fill="#fff"/><circle cx="972" cy="967" r="3.6" fill="#0cbc2a"/></g>
<g><circle cx="857" cy="999" r="17.9" fill="#fff"/><circle cx="857" cy="999" r="16.3" fill="#fd2a2a"/><text x="857" y="1003.7" class="cn" font-size="11">38</text><circle cx="869" cy="984" r="4.6" fill="#fff"/><circle cx="869" cy="984" r="3.6" fill="#0cbc2a"/></g>
<g><circle cx="1512.5" cy="1000.5" r="17.9" fill="#fff"/><circle cx="1512.5" cy="1000.5" r="16.3" fill="#fd2a2a"/><text x="1512.5" y="1005.2" class="cn" font-size="11">153</text><circle cx="1524.5" cy="985.5" r="4.6" fill="#fff"/><circle cx="1524.5" cy="985.5" r="3.6" fill="#0cbc2a"/></g>
<g><circle cx="1581" cy="1041" r="17.9" fill="#fff"/><circle cx="1581" cy="1041" r="16.3" fill="#fd2a2a"/><text x="1581" y="1045.7" class="cn" font-size="11">684</text><circle cx="1593" cy="1026" r="4.6" fill="#fff"/><circle cx="1593" cy="1026" r="3.6" fill="#0cbc2a"/></g>
<!-- labels -->
<rect x="331" y="428" width="84" height="25" rx="4" fill="#fff" fill-opacity="0.78"/>
<circle cx="374" cy="308.3" r="7.2" fill="#b00000"/>
<text x="389.5" y="314.2" font-size="16.3" font-weight="400" fill="#050505" stroke="#050505" stroke-width="0.35" textLength="130" lengthAdjust="spacingAndGlyphs">Санкт-Петербург</text>
<circle cx="317" cy="441" r="7.2" fill="#b00000"/>
<text x="332.5" y="446.7" font-size="16.3" fill="#050505" stroke="#050505" stroke-width="0.35" textLength="57" lengthAdjust="spacingAndGlyphs">Москва</text>
<circle cx="131" cy="563.7" r="7.2" fill="#b00000"/>
<text x="146" y="569" font-size="16.3" fill="#050505" stroke="#050505" stroke-width="0.35" textLength="99" lengthAdjust="spacingAndGlyphs">Севастополь</text>
<!-- legend -->
<g transform="translate(-3,9)" fill="#e6e6e6">
<circle cx="409" cy="1020" r="136"/><circle cx="590" cy="1089" r="82"/><path d="M486.2 1132.0A28 28 0 0 1 524.4 1138.2L530 1040L470 1040Z"/>
<circle cx="413.2" cy="1143.2" r="37"/>
<circle cx="592.4" cy="967" r="73"/>
</g>
<g fill="url(#blobg)">
<circle cx="409" cy="1020" r="136"/><circle cx="590" cy="1089" r="82"/><path d="M486.2 1132.0A28 28 0 0 1 524.4 1138.2L530 1040L470 1040Z"/>
</g>
<g clip-path="url(#blobclip)"><circle cx="591.5" cy="976.5" r="72" fill="#000" opacity="0.22"/></g>
<circle cx="592.4" cy="967" r="72.5" fill="#fff"/>
<circle cx="592.4" cy="967" r="71.3" fill="#07bb2c"/>
<circle cx="413.2" cy="1143.2" r="35.2" fill="#c4c4c4" stroke="#111" stroke-width="2"/>
<text x="409" y="1001.5" font-size="41" font-weight="700" fill="#fff" text-anchor="middle" textLength="153" lengthAdjust="spacingAndGlyphs">165 929</text>
<text x="411" y="1039" font-size="23" font-weight="700" fill="#fff" text-anchor="middle" textLength="163" lengthAdjust="spacingAndGlyphs">Заболевших в</text>
<text x="411.5" y="1062.3" font-size="23" font-weight="700" fill="#fff" text-anchor="middle">России</text>
<text x="590" y="1081" font-size="27" font-weight="700" fill="#fff" text-anchor="middle" textLength="82" lengthAdjust="spacingAndGlyphs">85 973</text>
<text x="588.6" y="1107" font-size="15.5" font-weight="700" fill="#fff" text-anchor="middle" textLength="97" lengthAdjust="spacingAndGlyphs">Заболевших</text>
<text x="588.6" y="1122.4" font-size="15.5" font-weight="700" fill="#fff" text-anchor="middle">в Москве</text>
<text x="593" y="977" font-size="25.5" font-weight="700" fill="#000" text-anchor="middle" textLength="79.5" lengthAdjust="spacingAndGlyphs">21 327</text>
<text x="593.8" y="880.8" font-size="15" font-weight="700" fill="#111" text-anchor="middle" textLength="98" lengthAdjust="spacingAndGlyphs">Вылеченных</text>
<text x="413.5" y="1150" font-size="19" font-weight="700" fill="#111" text-anchor="middle" textLength="45" lengthAdjust="spacingAndGlyphs">1 537</text>
<text x="413" y="1202" font-size="14" font-weight="700" fill="#111" text-anchor="middle" textLength="69" lengthAdjust="spacingAndGlyphs">Погибших</text>
<text x="413" y="1217.5" font-size="14" font-weight="700" fill="#111" text-anchor="middle" textLength="106" lengthAdjust="spacingAndGlyphs">от заболевания</text>
</svg>
</body></html>
